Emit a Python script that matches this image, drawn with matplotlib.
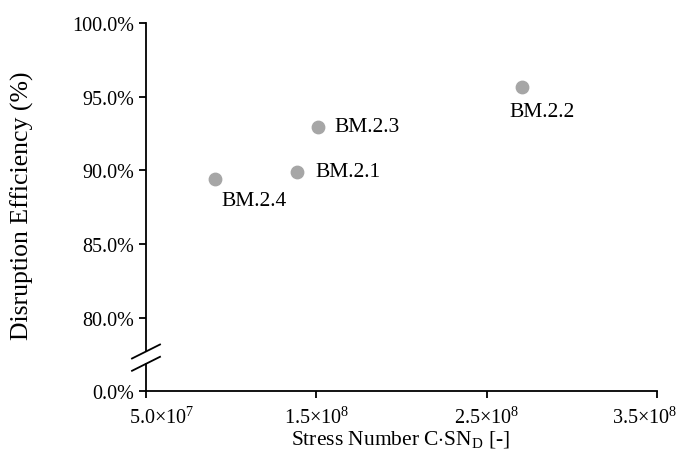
import matplotlib
matplotlib.use("Agg")
import matplotlib.pyplot as plt
from matplotlib.ticker import FuncFormatter
from matplotlib.lines import Line2D
from matplotlib.transforms import ScaledTranslation

# data
samples = ["BM.2.1", "BM.2.2", "BM.2.3", "BM.2.4"]
stress_number = [1.387e8, 2.709e8, 1.51e8, 9.05e7]
efficiency = [89.93, 95.69, 92.98, 89.39]

x_ticks = [5.0e7, 1.5e8, 2.5e8, 3.5e8]
x_tick_labels = [r"5.0$\times$10$^{7}$", r"1.5$\times$10$^{8}$",
                 r"2.5$\times$10$^{8}$", r"3.5$\times$10$^{8}$"]
y_ticks = [80, 85, 90, 95, 100]

# label offsets in points (x, y)
label_offsets = {"BM.2.1": (13, 0), "BM.2.2": (-9, -18),
                 "BM.2.3": (12, 0), "BM.2.4": (5, -15)}

plt.rcParams["font.family"] = ["Liberation Serif", "DejaVu Serif"]
plt.rcParams["mathtext.fontset"] = "custom"
plt.rcParams["mathtext.rm"] = "Liberation Serif"
plt.rcParams["mathtext.it"] = "Liberation Serif:italic"

W, H = 677, 477
fig = plt.figure(figsize=(W / 100, H / 100), dpi=100)

left = 146 / W
width = 511 / W
ax = fig.add_axes([left, 1 - 352 / H, width, (352 - 24) / H])
ax0 = fig.add_axes([left, 1 - 392 / H, width, (392 - 365) / H])

point_color = "#a6a6a6"
ax.scatter(stress_number, efficiency, s=80, color=point_color, zorder=3)
for name, xv, yv in zip(samples, stress_number, efficiency):
    ax.annotate(name, (xv, yv), xytext=label_offsets[name],
                textcoords="offset points", ha="left", va="center", fontsize=15.5)

for a in (ax, ax0):
    a.set_xlim(5e7, 3.5e8)
    a.spines["top"].set_visible(False)
    a.spines["right"].set_visible(False)
    a.spines["left"].set_linewidth(1.3)
    a.spines["bottom"].set_linewidth(1.3)
    a.tick_params(axis="both", direction="out", length=5, width=1.3,
                  labelsize=14.5, colors="black")
    a.patch.set_alpha(0)

ax.set_ylim(77.76, 100)
ax.set_yticks(y_ticks)
ax.yaxis.set_major_formatter(FuncFormatter(lambda v, p: f"{v:.1f}%"))
ax.spines["bottom"].set_visible(False)
ax.tick_params(axis="x", bottom=False, labelbottom=False)

ax0.set_ylim(0, 2)
ax0.set_yticks([0])
ax0.yaxis.set_major_formatter(FuncFormatter(lambda v, p: f"{v:.1f}%"))
ax0.set_xticks(x_ticks)
ax0.set_xticklabels(x_tick_labels)
ax0.tick_params(axis="x", pad=6)

# first and last tick labels are nudged inward like in the original
labels = ax0.get_xticklabels()
labels[0].set_transform(labels[0].get_transform() + ScaledTranslation(16 / 100, 0, fig.dpi_scale_trans))
labels[-1].set_transform(labels[-1].get_transform() + ScaledTranslation(-12 / 100, 0, fig.dpi_scale_trans))

# axis break marks
for y0 in (352.5, 364.8):
    xs = [(146 - 14) / W, (146 + 14) / W]
    ys = [1 - (y0 + 7) / H, 1 - (y0 - 7) / H]
    fig.add_artist(Line2D(xs, ys, color="black", lw=1.3, transform=fig.transFigure))

fig.text(22 / W, 1 - 206 / H, "Disruption Efficiency (%)", rotation=90,
         ha="center", va="center", fontsize=18.5)
fig.text(401 / W, 1 - 440 / H, r"Stress Number C$\cdot$SN$_\mathrm{D}$ [-]",
         ha="center", va="center", fontsize=15.5)

fig.savefig("out.png", dpi=100)
